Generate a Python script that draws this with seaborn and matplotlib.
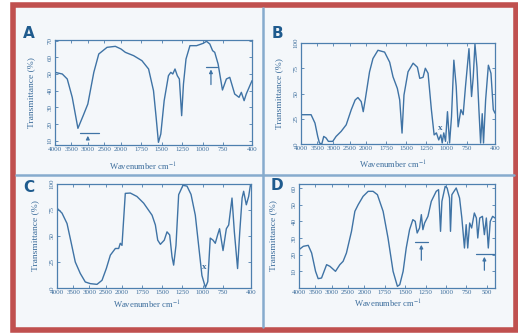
import numpy as np
import matplotlib
matplotlib.use("Agg")
import matplotlib.pyplot as plt
import seaborn as sns
from matplotlib.patches import Rectangle
from matplotlib.lines import Line2D

# ==========================================
# Spectra (wavenumber cm-1, transmittance %)
# ==========================================

wn_a = [4000, 3778, 3627, 3475, 3302, 3142, 3000, 2818, 2667, 2415, 2163, 1996,
        1943, 1842, 1741, 1660, 1600, 1568, 1540, 1511, 1470, 1418, 1389, 1365,
        1338, 1310, 1285, 1257, 1235, 1204, 1156, 1075, 995, 954, 914, 880, 854,
        813, 760, 712, 671, 611, 558, 530, 496, 470, 400]
tr_a = [51, 50, 47, 36, 17.4, 25, 32, 51, 62, 66, 66.6, 65,
        63, 61, 58, 53, 40, 24, 9, 14, 34, 49, 51, 50,
        53, 49, 47, 25, 44, 59, 67, 67, 68.4, 69.6, 68, 64, 63,
        56, 40.4, 47, 48, 38, 36, 39, 34, 38, 46]

wn_b = [4000, 3688, 3568, 3483, 3430, 3357, 3297, 3225, 3153, 3018, 2915, 2758,
        2602, 2445, 2325, 2240, 2138, 2075, 2015, 1952, 1910, 1848, 1766, 1703,
        1662, 1608, 1579, 1550, 1526, 1476, 1413, 1360, 1331, 1290, 1262, 1228,
        1187, 1153, 1125, 1096, 1070, 1053, 1034, 1012, 988, 962, 938, 909, 880,
        856, 822, 794, 765, 722, 690, 669, 648, 623, 599, 578, 558, 542, 516,
        482, 450, 421, 400]
tr_b = [29, 29, 20.7, 7.5, 1, 0, 7.5, 6, 2.6, 2.6, 7.5, 12.5,
        19, 34, 43.6, 46, 42, 32, 43.6, 71.5, 84.6, 92.8, 91, 81,
        66.6, 55, 43.6, 10.8, 48.5, 71.5, 80, 76, 65, 66, 75, 70,
        34, 9, 11, 4, 9, 1, 11, 2.6, 32, 1, 27, 83, 57,
        17, 34, 29, 57, 94.4, 47, 66.6, 99, 76, 34, 1, 30, 1, 43.6,
        78, 70, 34, 30.5]

wn_c = [4000, 3845, 3690, 3568, 3435, 3280, 3125, 2970, 2763, 2608, 2475, 2350,
        2195, 2093, 2043, 1996, 1955, 1893, 1811, 1728, 1624, 1583, 1554, 1521,
        1473, 1439, 1406, 1377, 1357, 1328, 1295, 1242, 1192, 1142, 1089, 1048,
        1007, 964, 935, 904, 870, 842, 813, 789, 746, 705, 676, 635, 606, 566,
        539, 510, 491, 458, 429, 407, 400]
tr_c = [76.8, 72, 62, 44.5, 25, 14, 5.8, 4.2, 3.5, 7.4, 18.7, 31.6,
        38, 38, 43, 41, 91, 91.3, 88, 81.6, 70, 60.6, 46, 42,
        46, 54, 51, 30, 22, 41, 89.7, 98.7, 98, 90, 70, 41,
        12, 0.5, 6, 48, 46, 43, 51, 57, 36, 57, 60.6, 86.5, 54, 18.7,
        54, 86.5, 93, 80, 88, 99, 98]

wn_d = [4000, 3868, 3718, 3613, 3493, 3413, 3310, 3155, 3053, 2883, 2750, 2650,
        2548, 2393, 2290, 2188, 2038, 1953, 1893, 1840, 1770, 1710, 1648, 1595,
        1566, 1525, 1487, 1446, 1406, 1377, 1353, 1324, 1302, 1283, 1262, 1221,
        1180, 1120, 1091, 1067, 1050, 1010, 986, 957, 945, 928, 875, 834, 806,
        774, 753, 734, 710, 686, 653, 628, 611, 587, 554, 530, 506, 482, 458,
        429, 400]
tr_d = [23, 25, 25.6, 21, 10, 5.6, 6, 14, 13, 10, 14, 16,
        21, 34, 46, 50, 55, 58, 58, 56, 46, 30, 10, 1,
        2, 10, 24, 35, 41, 40, 33, 36, 44, 35, 39, 43,
        52, 58, 59, 34, 52, 61, 60, 54, 34, 56, 60, 54, 42,
        24, 38, 24, 39, 36, 45, 42, 30, 42, 43, 32, 42, 24, 40,
        43, 42]

xticks_abc = [4000, 3500, 3000, 2500, 2000, 1750, 1500, 1250, 1000, 750, 400]
xticks_d = [4000, 3500, 3000, 2500, 2000, 1750, 1500, 1250, 1000, 750, 500]
yticks_a = [10, 20, 30, 40, 50, 60, 70]
yticks_bc = [0, 25, 50, 75, 100]
yticks_d = [10, 20, 30, 40, 50, 60]

# band markers: (bar from, bar to, bar y, arrow x, arrow bottom)
marks_a = [(3250, 2670, 14.6, 3000, 9.5), (955, 830, 54.4, 900, 42)]
marks_d = [(1384, 1221, 27.6, 1302, 15), (633, 407, 20.4, 530, 9)]
xmark_b = (1075, 16)
xmark_c = (978, 20)

# ==========================================
# Style
# ==========================================

sns.set_style("ticks")
plt.rcParams["font.family"] = ["Liberation Serif", "DejaVu Serif"]
plt.rcParams["mathtext.fontset"] = "stix"

LINE = "#3f73a5"
TEXT = "#3c6d9c"
AXC = "#4d7fae"


def fwd(x):
    x = np.asarray(x, dtype=float)
    return np.where(x > 2000, 2000 + (x - 2000) / 2.5, x)


def inv(u):
    u = np.asarray(u, dtype=float)
    return np.where(u > 2000, 2000 + (u - 2000) * 2.5, u)


fig = plt.figure(figsize=(5.18, 3.33), dpi=100)
fig.patch.set_facecolor("white")

# frame and dividers
fig.patches.append(Rectangle((13 / 518, 1 - 330 / 333), 503 / 518, 325 / 333,
                             transform=fig.transFigure, facecolor="#f4f7fa",
                             edgecolor="#c0504f", linewidth=4.0, zorder=-10))
fig.lines.append(Line2D([263 / 518, 263 / 518], [1 - 327 / 333, 1 - 8 / 333],
                        transform=fig.transFigure, color="#86abcd", lw=1.8,
                        zorder=-9))
fig.lines.append(Line2D([16 / 518, 514 / 518], [1 - 175 / 333, 1 - 175 / 333],
                        transform=fig.transFigure, color="#86abcd", lw=1.8,
                        zorder=-9))


def px_box(l, r, t, b):
    return [l / 518, 1 - b / 333, (r - l) / 518, (b - t) / 333]


panels = [
    dict(box=px_box(55, 252, 40, 145), wn=wn_a, tr=tr_a, yl=(7.4, 70.4),
         yt=yticks_a, xt=xticks_abc, letter="A", lpos=(29, 33),
         ylab=-0.10, xlab=(0.447, -0.15), marks=marks_a, xm=None),
    dict(box=px_box(301, 495, 43, 144), wn=wn_b, tr=tr_b, yl=(0, 100),
         yt=yticks_bc, xt=xticks_abc, letter="B", lpos=(277, 34),
         ylab=-0.093, xlab=(0.474, -0.15), marks=[], xm=xmark_b),
    dict(box=px_box(57, 251, 184, 288), wn=wn_c, tr=tr_c, yl=(0, 100),
         yt=yticks_bc, xt=xticks_abc, letter="C", lpos=(29, 187),
         ylab=-0.09, xlab=(0.464, -0.106), marks=[], xm=xmark_c),
    dict(box=px_box(299, 495, 184, 288), wn=wn_d, tr=tr_d, yl=(0, 62.4),
         yt=yticks_d, xt=xticks_d, letter="D", lpos=(277, 186),
         ylab=-0.11, xlab=(0.454, -0.096), marks=marks_d, xm=None),
]

for p in panels:
    ax = fig.add_axes(p["box"])
    ax.set_facecolor("none")
    sns.lineplot(x=p["wn"], y=p["tr"], ax=ax, color=LINE, lw=1.0,
                 estimator=None, sort=False)
    ax.set_xscale("function", functions=(fwd, inv))
    ax.set_xlim(4000, 400)
    ax.set_ylim(*p["yl"])
    ax.set_xticks(p["xt"])
    ax.set_xticklabels([str(v) for v in p["xt"]])
    ax.set_yticks(p["yt"])
    ax.xaxis.set_minor_locator(matplotlib.ticker.NullLocator())
    ax.tick_params(direction="in", top=True, right=True, length=2,
                   width=0.6, colors=AXC, labelcolor=TEXT, labelsize=5.0,
                   pad=1.5)
    for lab in ax.get_yticklabels():
        lab.set_rotation(90)
        lab.set_va("center")
    for s in ax.spines.values():
        s.set_color(AXC)
        s.set_linewidth(0.9)
        s.set_visible(True)
    ax.set_ylabel("Transmittance (%)", fontsize=6.8, color=TEXT)
    ax.yaxis.set_label_coords(p["ylab"], 0.5)
    ax.set_xlabel("Wavenumber cm$^{-1}$", fontsize=6.2, color=TEXT)
    ax.xaxis.set_label_coords(*p["xlab"])

    for x0, x1, yb, xa, ya in p["marks"]:
        ax.plot([x0, x1], [yb, yb], color=LINE, lw=0.9)
        ax.annotate("", xy=(xa, yb), xytext=(xa, ya),
                    arrowprops=dict(arrowstyle="-|>", color=LINE, lw=0.9,
                                    mutation_scale=5))
    if p["xm"] is not None:
        ax.text(p["xm"][0], p["xm"][1], "x", fontsize=6.5, color=TEXT,
                ha="center", va="center", fontweight="bold")

    fig.text(p["lpos"][0] / 518, 1 - p["lpos"][1] / 333, p["letter"],
             family="DejaVu Sans", fontweight="bold", fontsize=11,
             color="#1f5b8e", ha="center", va="center")

fig.savefig("out.png", dpi=100)
